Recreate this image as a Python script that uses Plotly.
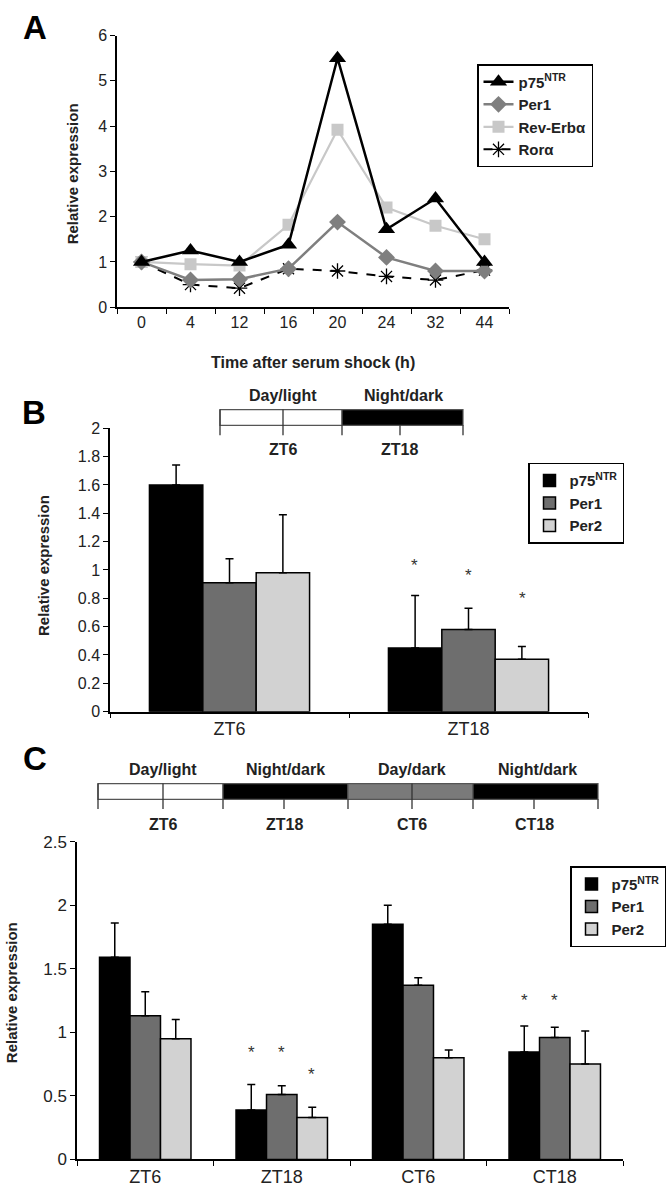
import plotly.graph_objects as go

W, H = 668, 1199
FONT = "Liberation Sans, Arial, sans-serif"

# ---------------- Data ----------------
# Panel A
timepoints = ["0", "4", "12", "16", "20", "24", "32", "44"]
p75_A = [1.0, 1.25, 1.0, 1.38, 5.5, 1.72, 2.4, 1.0]
per1_A = [1.0, 0.6, 0.62, 0.85, 1.88, 1.1, 0.8, 0.8]
reverb_A = [1.0, 0.95, 0.92, 1.82, 3.92, 2.2, 1.8, 1.5]
rora_A = [1.0, 0.5, 0.42, 0.85, 0.8, 0.68, 0.6, 0.82]

# Panel B
cats_B = ["ZT6", "ZT18"]
p75_B = [1.6, 0.45]
p75_B_err_top = [1.74, 0.82]
per1_B = [0.91, 0.58]
per1_B_err_top = [1.08, 0.73]
per2_B = [0.98, 0.37]
per2_B_err_top = [1.39, 0.46]
stars_B = [("ZT18", 0, 1.03), ("ZT18", 1, 0.96), ("ZT18", 2, 0.80)]

# Panel C
cats_C = ["ZT6", "ZT18", "CT6", "CT18"]
p75_C = [1.59, 0.39, 1.85, 0.845]
p75_C_err_top = [1.86, 0.59, 2.0, 1.05]
per1_C = [1.13, 0.51, 1.37, 0.96]
per1_C_err_top = [1.32, 0.58, 1.43, 1.04]
per2_C = [0.95, 0.33, 0.80, 0.75]
per2_C_err_top = [1.10, 0.41, 0.86, 1.01]
stars_C = [("ZT18", 0, 0.84), ("ZT18", 1, 0.84), ("ZT18", 2, 0.67),
           ("CT18", 0, 1.25), ("CT18", 1, 1.25)]

bar_names = ["p75<sup>NTR</sup>", "Per1", "Per2"]
bar_colors = ["#000000", "#6e6e6e", "#d2d2d2"]


def px(x):
    return x / W


def py(y):
    return 1 - y / H


fig = go.Figure()

# ---------------- Panel A traces (reverse order so black is on top) ----------------
fig.add_trace(go.Scatter(
    x=timepoints, y=rora_A, name="Ror\u03b1", mode="lines+markers",
    line=dict(color="#000000", width=2, dash="dash"),
    marker=dict(symbol="asterisk-open", size=13, color="#000000",
                line=dict(color="#000000", width=1.3)),
    xaxis="x", yaxis="y", legend="legend", legendrank=4))
fig.add_trace(go.Scatter(
    x=timepoints, y=reverb_A, name="Rev-Erb\u03b1", mode="lines+markers",
    line=dict(color="#c8c8c8", width=2.2),
    marker=dict(symbol="square", size=12, color="#c8c8c8"),
    xaxis="x", yaxis="y", legend="legend", legendrank=3))
fig.add_trace(go.Scatter(
    x=timepoints, y=per1_A, name="Per1", mode="lines+markers",
    line=dict(color="#7f7f7f", width=2.5),
    marker=dict(symbol="diamond", size=13, color="#7f7f7f"),
    xaxis="x", yaxis="y", legend="legend", legendrank=2))
fig.add_trace(go.Scatter(
    x=timepoints, y=p75_A, name="p75<sup>NTR</sup>", mode="lines+markers",
    line=dict(color="#000000", width=2.5),
    marker=dict(symbol="triangle-up", size=15, color="#000000"),
    xaxis="x", yaxis="y", legend="legend", legendrank=1))

# ---------------- Panel B bars ----------------
for name, col, vals, tops in zip(bar_names, bar_colors,
                                 [p75_B, per1_B, per2_B],
                                 [p75_B_err_top, per1_B_err_top, per2_B_err_top]):
    fig.add_trace(go.Bar(
        x=cats_B, y=vals, name=name,
        marker=dict(color=col, line=dict(color="#000000", width=1.5)),
        error_y=dict(type="data", symmetric=False,
                     array=[t - v for t, v in zip(tops, vals)],
                     arrayminus=[0] * len(vals),
                     color="#000000", thickness=1.5, width=4),
        xaxis="x2", yaxis="y2", legend="legend2"))

# ---------------- Panel C bars ----------------
for name, col, vals, tops in zip(bar_names, bar_colors,
                                 [p75_C, per1_C, per2_C],
                                 [p75_C_err_top, per1_C_err_top, per2_C_err_top]):
    fig.add_trace(go.Bar(
        x=cats_C, y=vals, name=name,
        marker=dict(color=col, line=dict(color="#000000", width=1.5)),
        error_y=dict(type="data", symmetric=False,
                     array=[t - v for t, v in zip(tops, vals)],
                     arrayminus=[0] * len(vals),
                     color="#000000", thickness=1.5, width=4),
        xaxis="x3", yaxis="y3", legend="legend3"))

axis_common = dict(showline=True, linecolor="#000000", linewidth=1.5,
                   ticks="outside", ticklen=5, tickwidth=1.2, tickcolor="#000000",
                   showgrid=False, zeroline=False, fixedrange=True)

annotations = []
shapes = []

# Panel letters
for letter, x, y in [("A", 35, 19), ("B", 34, 410), ("C", 35, 762)]:
    annotations.append(dict(text="<b>%s</b>" % letter, x=px(x), y=py(y),
                            xref="paper", yref="paper", showarrow=False,
                            font=dict(size=33, color="#000000", family=FONT),
                            xanchor="center", yanchor="middle"))

# Y titles
for x, y in [(72, 168), (43, 565), (11, 1000)]:
    annotations.append(dict(text="<b>Relative expression</b>", x=px(x), y=py(y),
                            xref="paper", yref="paper", showarrow=False, textangle=-90,
                            font=dict(size=15, color="#222222", family=FONT),
                            xanchor="center", yanchor="middle"))

# X title panel A
annotations.append(dict(text="<b>Time after serum shock (h)</b>", x=px(313), y=py(359),
                        xref="paper", yref="paper", showarrow=False,
                        font=dict(size=16, color="#222222", family=FONT),
                        xanchor="center", yanchor="middle"))

# Significance stars
for (cat, idx, yv) in stars_B:
    annotations.append(dict(text="*", x=cat, y=yv, xref="x2", yref="y2",
                            xshift=(idx - 1) * 54, showarrow=False,
                            font=dict(size=17, color="#333333", family=FONT),
                            xanchor="center", yanchor="middle"))
for (cat, idx, yv) in stars_C:
    annotations.append(dict(text="*", x=cat, y=yv, xref="x3", yref="y3",
                            xshift=(idx - 1) * 30, showarrow=False,
                            font=dict(size=17, color="#333333", family=FONT),
                            xanchor="center", yanchor="middle"))


# Light/dark schedule bars
def schedule(segments, y_top, y_bot, y_tick, ticks_through, ticks_below,
             top_labels, bottom_labels, y_top_lab, y_bot_lab):
    for x0, x1, col in segments:
        shapes.append(dict(type="rect", xref="paper", yref="paper",
                           x0=px(x0), x1=px(x1), y0=py(y_bot), y1=py(y_top),
                           fillcolor=col, line=dict(color="#555555", width=1.2)))
    for x in ticks_through:
        shapes.append(dict(type="line", xref="paper", yref="paper",
                           x0=px(x), x1=px(x), y0=py(y_top), y1=py(y_tick),
                           line=dict(color="#333333", width=1.3)))
    for x in ticks_below:
        shapes.append(dict(type="line", xref="paper", yref="paper",
                           x0=px(x), x1=px(x), y0=py(y_bot), y1=py(y_tick),
                           line=dict(color="#333333", width=1.3)))
    for txt, x in top_labels:
        annotations.append(dict(text="<b>%s</b>" % txt, x=px(x), y=py(y_top_lab),
                                xref="paper", yref="paper", showarrow=False,
                                font=dict(size=16, color="#222222", family=FONT),
                                xanchor="center", yanchor="middle"))
    for txt, x in bottom_labels:
        annotations.append(dict(text="<b>%s</b>" % txt, x=px(x), y=py(y_bot_lab),
                                xref="paper", yref="paper", showarrow=False,
                                font=dict(size=16, color="#222222", family=FONT),
                                xanchor="center", yanchor="middle"))


schedule(segments=[(220, 342, "#ffffff"), (342, 463, "#000000")],
         y_top=407, y_bot=423, y_tick=433,
         ticks_through=[220, 283],
         ticks_below=[342, 400, 463],
         top_labels=[("Day/light", 283), ("Night/dark", 403)],
         bottom_labels=[("ZT6", 283), ("ZT18", 400)],
         y_top_lab=393, y_bot_lab=448)

schedule(segments=[(98, 223, "#ffffff"), (223, 348, "#000000"),
                   (348, 473, "#7a7a7a"), (473, 598, "#000000")],
         y_top=787, y_bot=803, y_tick=813,
         ticks_through=[98, 163, 412],
         ticks_below=[223, 284, 348, 473, 534, 598],
         top_labels=[("Day/light", 163), ("Night/dark", 285),
                     ("Day/dark", 412), ("Night/dark", 537)],
         bottom_labels=[("ZT6", 163), ("ZT18", 284), ("CT6", 412), ("CT18", 534)],
         y_top_lab=773, y_bot_lab=829)

legend_common = dict(bordercolor="#000000", borderwidth=1.5, bgcolor="#ffffff",
                     font=dict(size=15, color="#222222", family=FONT, weight="bold"),
                     yanchor="top", tracegroupgap=0)

fig.update_layout(
    width=W, height=H,
    margin=dict(l=0, r=0, t=0, b=0),
    paper_bgcolor="#ffffff", plot_bgcolor="#ffffff",
    font=dict(family=FONT, color="#222222"),
    barmode="group", bargap=0.33, bargroupgap=0,
    showlegend=True,
    xaxis=dict(domain=[px(117), px(509)], anchor="y", type="category",
               range=[-0.5, 7.5], tickson="boundaries",
               tickfont=dict(size=16, color="#222222"), **axis_common),
    yaxis=dict(domain=[py(303), py(27)], anchor="x", range=[0, 6], dtick=1,
               tickfont=dict(size=16, color="#222222"), **axis_common),
    xaxis2=dict(domain=[px(110), px(588)], anchor="y2", type="category",
                range=[-0.5, 1.5], tickson="boundaries",
                tickfont=dict(size=18, color="#222222"), **axis_common),
    yaxis2=dict(domain=[py(714), py(426)], anchor="x2", range=[0, 2], dtick=0.2,
                tickfont=dict(size=16, color="#222222"), **axis_common),
    xaxis3=dict(domain=[px(77), px(623)], anchor="y3", type="category",
                range=[-0.5, 3.5], tickson="boundaries",
                tickfont=dict(size=18, color="#222222"), **axis_common),
    yaxis3=dict(domain=[py(1169), py(846)], anchor="x3", range=[0, 2.5], dtick=0.5,
                tickfont=dict(size=17, color="#222222"), **axis_common),
    legend=dict(x=px(477), y=py(56), xanchor="left", traceorder="normal",
                **legend_common),
    legend2=dict(x=px(576), y=py(461), xanchor="center", **legend_common),
    legend3=dict(x=px(666), y=py(871), xanchor="right", **legend_common),
    annotations=annotations,
    shapes=shapes,
)

fig.write_html("out.html",
               config={"displayModeBar": False},
               post_script="document.body.style.margin='0';"
                           "document.body.style.overflow='hidden';")
